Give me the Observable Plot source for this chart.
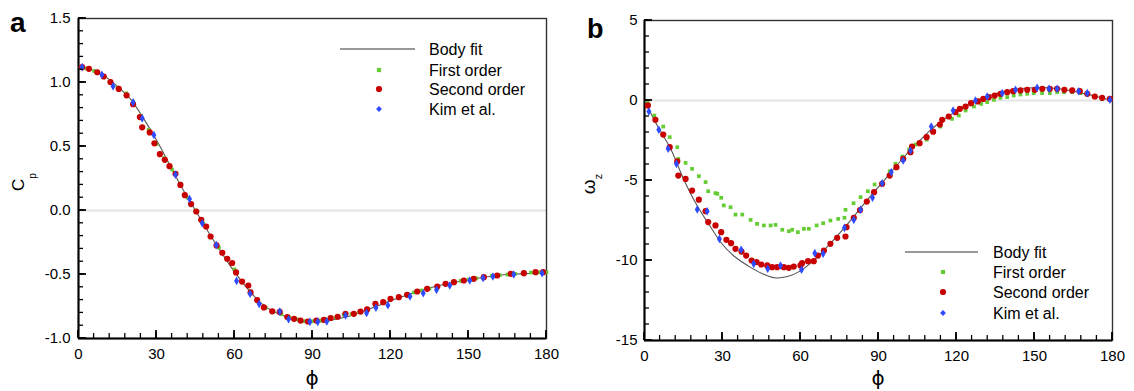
<!DOCTYPE html>
<html>
<head>
<meta charset="utf-8">
<script src="https://cdn.jsdelivr.net/npm/d3@7"></script>
<script src="https://cdn.jsdelivr.net/npm/@observablehq/plot@0.6"></script>
<style>
  html, body { margin: 0; padding: 0; background: #fff; }
  #wrap { display: flex; width: 1134px; height: 391px; }
  #wrap > div { width: 567px; height: 391px; }
</style>
</head>
<body>
<div id="wrap"><div id="pa"></div><div id="pb"></div></div>
<script>
// ---------- Tick labels ----------
const xMajorTicks = [0, 30, 60, 90, 120, 150, 180];
const cpMajorTicks = [-1.0, -0.5, 0.0, 0.5, 1.0, 1.5];
const omMajorTicks = [-15, -10, -5, 0, 5];
const seriesNames = ["Body fit", "First order", "Second order", "Kim et al."];

// ---------- Panel a: Cp ----------
const cpFitPhi = [0,5,10,15,20,25,30,35,40,45,50,55,60,65,70,75,80,85,90,95,100,105,110,115,120,125,130,135,140,145,150,155,160,165,170,175,180];
const cpFit    = [1.12,1.10,1.05,0.97,0.87,0.72,0.55,0.36,0.17,0.0,-0.17,-0.33,-0.48,-0.61,-0.72,-0.79,-0.83,-0.86,-0.875,-0.865,-0.845,-0.82,-0.785,-0.745,-0.705,-0.67,-0.635,-0.605,-0.58,-0.56,-0.54,-0.525,-0.51,-0.5,-0.495,-0.49,-0.49];

const cpFirstPhi = [3,6,9,12,15,18.3,21,24,27,30,33,36,39,42,45,48,51,54,57,60,63,66,69,72,75,78,81,84,87,90,93,96,99,102,105,108,111,114,117,120,123,126,129,132,135,138,141,144,147,150,153,156,159,162,165,168,171,174,177,180];
const cpFirst    = [1.11,1.09,1.06,1.01,0.96,0.915,0.85,0.74,0.63,0.52,0.41,0.32,0.21,0.10,0.0,-0.10,-0.2,-0.29,-0.37,-0.46,-0.55,-0.63,-0.71,-0.76,-0.79,-0.81,-0.835,-0.85,-0.865,-0.865,-0.86,-0.85,-0.835,-0.815,-0.81,-0.795,-0.775,-0.74,-0.72,-0.695,-0.68,-0.66,-0.64,-0.625,-0.61,-0.595,-0.575,-0.56,-0.55,-0.54,-0.53,-0.52,-0.51,-0.505,-0.5,-0.495,-0.49,-0.485,-0.483,-0.482];

const cpSecondPhi = [1.4,4,7.2,9.7,12.3,15.5,18.5,21,23.6,24.5,27.4,29.2,31.3,33.2,35,37.3,39.2,40.9,43.3,45.3,47.2,49.1,50.8,53.1,55.3,57.2,59.1,60.6,62.9,65.3,66.2,68.7,71.3,74.5,77.4,80.3,82.9,85.4,88.2,91.5,94.4,97,99.7,102.7,105.9,108.5,111,114.2,117.2,120,123.2,126.4,130.3,134.1,138,141.2,144.4,148.2,152,155.9,161,166.2,171.3,175.8,178.7];
const cpSecond    = [1.12,1.107,1.08,1.047,1.003,0.95,0.90,0.83,0.73,0.65,0.61,0.525,0.44,0.396,0.346,0.287,0.20,0.12,0.05,-0.008,-0.073,-0.125,-0.203,-0.273,-0.33,-0.377,-0.41,-0.484,-0.555,-0.586,-0.64,-0.70,-0.757,-0.788,-0.792,-0.832,-0.846,-0.86,-0.867,-0.86,-0.854,-0.84,-0.83,-0.807,-0.807,-0.79,-0.773,-0.729,-0.716,-0.69,-0.677,-0.659,-0.633,-0.612,-0.594,-0.573,-0.56,-0.547,-0.534,-0.521,-0.508,-0.495,-0.49,-0.482,-0.482];

const cpKimPhi = [1.4,9,13.3,21,24.5,29,37.3,42.7,47.6,53,60.8,66,69.5,77.4,80.8,89,92,95.5,102.7,110.8,114.4,119,127.5,132.6,137.7,142.8,150.5,155.6,159.4,167.4,178.3];
const cpKim    = [1.12,1.06,0.97,0.845,0.72,0.59,0.28,0.09,-0.10,-0.27,-0.55,-0.65,-0.73,-0.79,-0.85,-0.87,-0.87,-0.867,-0.82,-0.80,-0.76,-0.74,-0.672,-0.646,-0.62,-0.586,-0.547,-0.528,-0.516,-0.50,-0.49];

// ---------- Panel b: vorticity ----------
const omFitPhi = [0,5,10,15,20,25,30,35,40,45,50,55,60,65,70,75,80,85,90,95,100,105,110,115,120,125,130,135,140,145,150,155,160,165,170,175,180];
const omFit    = [0,-1.6,-3.0,-4.9,-6.5,-7.8,-9.0,-9.8,-10.35,-10.8,-11.08,-11.0,-10.65,-10.0,-9.2,-8.3,-7.35,-6.35,-5.4,-4.45,-3.5,-2.65,-1.85,-1.2,-0.65,-0.2,0.15,0.42,0.62,0.74,0.8,0.8,0.72,0.58,0.4,0.2,0.0];

const omFirstPhi = [1.2,3.8,7.2,9.7,12.6,13,15.8,18.3,20.9,23.5,24.5,27.3,28,29.5,30.5,33.1,35,37.6,40.8,43.3,45.9,48.5,50.4,53,55.5,56.8,59,61.3,63.2,66.2,68.7,71.5,74.5,76.9,77.3,80.4,83.1,85.9,88.5,94.3,96.5,99.2,101.8,104.3,108.5,111.3,113.8,118.3,120.9,123.5,126.7,129.5,131.8,134.4,136.9,139.5,142,144.6,147.2,149.7,152.9,155.9,158.7,161.3,164.5,167.7,170.3,172.8,176,179];
const omFirst    = [-0.13,-0.94,-1.63,-2.29,-2.92,-3.65,-3.9,-4.27,-4.73,-5.1,-5.67,-5.79,-5.83,-6.08,-6.56,-6.67,-7.13,-7.13,-7.46,-7.71,-7.81,-7.81,-7.77,-8.08,-8.17,-8.08,-8.23,-8.02,-8.02,-7.81,-7.67,-7.5,-7.4,-7.33,-6.83,-6.42,-6.04,-5.67,-5.25,-4.42,-3.96,-3.5,-3.05,-2.75,-2.45,-1.98,-1.63,-1.15,-0.94,-0.625,-0.375,-0.21,-0.1,0.04,0.17,0.21,0.31,0.375,0.42,0.46,0.46,0.46,0.52,0.52,0.52,0.46,0.375,0.25,0.1,0.04];

const omSecondPhi = [1.3,4.2,7.2,9.7,12.6,13,15.8,18.3,20.9,23.5,24.5,27.3,29.5,31.5,33.3,35,37.3,39.1,41.2,43.1,44.9,47.2,49.1,51,53.6,55.5,57.4,60,60.6,62.9,65.1,66.7,69,71.5,74.1,77.3,77.7,80.5,82.9,85.5,88.3,91.4,94.3,96.9,99.5,102.3,102.9,105.8,108.5,111,113.6,114.5,117,119.6,121.3,123.5,125.6,128.2,130.3,132.4,134.7,136.9,139.5,141.8,144.6,147.2,150.1,153,155.9,158.7,161.5,164.5,167.4,170.3,173.2,176,179];
const omSecond    = [-0.31,-1.21,-2.13,-2.92,-3.81,-4.69,-4.9,-5.63,-6.2,-6.92,-7.6,-7.81,-8.23,-8.71,-8.92,-9.27,-9.44,-9.69,-10.0,-10.1,-10.25,-10.31,-10.42,-10.42,-10.42,-10.46,-10.38,-10.31,-10.17,-10.04,-10.04,-9.69,-9.38,-8.96,-8.58,-8.5,-7.92,-7.33,-6.85,-6.32,-5.73,-5.21,-4.69,-4.17,-3.65,-3.23,-2.88,-2.67,-2.29,-1.95,-1.5,-1.21,-1.0,-0.73,-0.52,-0.38,-0.17,-0.06,0.1,0.21,0.31,0.42,0.52,0.58,0.63,0.67,0.67,0.73,0.73,0.73,0.67,0.63,0.58,0.42,0.25,0.17,0.1];

const omKimPhi = [1.7,5.5,9.1,12.3,20.3,24.1,28.8,37.2,42,47.4,52.3,60.4,65.5,68.7,76.9,80.5,83.1,87.7,91.4,94.9,99.5,102.3,110.3,118.7,127.3,131.8,137.6,142.7,151,155.6,158.7,167,170.3,179];
const omKim    = [-0.69,-1.83,-3.02,-3.96,-6.81,-6.92,-8.65,-9.33,-10.21,-10.52,-10.31,-10.58,-9.54,-9.58,-7.96,-7.46,-6.83,-6.08,-5.17,-4.48,-3.75,-3.13,-1.63,-0.625,0.0,0.25,0.46,0.67,0.79,0.73,0.73,0.58,0.46,0.05];

// ---------- Styles ----------
const colFit = "#555555", colFirst = "#66cc33", colSecond = "#c80000", colKim = "#2f4bff";
const FONT = "'Liberation Sans', Arial, Helvetica, sans-serif";

const zip = (xs, ys) => xs.map((x, i) => ({phi: x, v: ys[i]}));

function panel({fit, first, second, kim, yDomain, yMajor, yMinorStep, yFormat, margins, tickPadY}) {
  const W = 567, H = 391;
  const yMinor = d3.range(yDomain[0], yDomain[1] + 1e-9, yMinorStep);
  const xMinor = d3.range(0, 181, 6);
  const y0 = yDomain[0];
  const svg = Plot.plot({
    width: W, height: H,
    ...margins,
    style: {fontFamily: FONT, fontSize: "15px", color: "#000", background: "transparent", overflow: "visible"},
    x: {domain: [0, 180]},
    y: {domain: yDomain},
    marks: [
      Plot.ruleY([0], {stroke: "#e4e4e4", strokeWidth: 2}),
      Plot.frame({stroke: "#333", strokeWidth: 1.4, fill: "none"}),
      Plot.axisX({ticks: xMajorTicks, tickSize: 0, tickPadding: 10, tickFormat: d => String(d), label: null}),
      Plot.axisY({ticks: yMajor, tickSize: 0, tickPadding: tickPadY, tickFormat: yFormat, label: null}),
      Plot.ruleX([0], {stroke: "#000", strokeWidth: 2}),
      Plot.ruleY([y0], {stroke: "#000", strokeWidth: 2}),
      Plot.line(fit, {x: "phi", y: "v", stroke: colFit, strokeWidth: 1.1, curve: "catmull-rom"}),
      Plot.dot(first, {x: "phi", y: "v", symbol: "square", r: 2.1, fill: colFirst, stroke: "none"}),
      Plot.dot(second, {x: "phi", y: "v", r: 3.1, fill: colSecond, stroke: "none"}),
      Plot.dot(kim, {x: "phi", y: "v", symbol: "diamond", r: 2.6, fill: colKim, stroke: "none"})
    ]
  });
  // inward tick marks, positioned with the plot's own scales
  const sx = svg.scale("x"), sy = svg.scale("y");
  const xb = sy.apply(y0), xl = sx.apply(0);
  const g = d3.select(svg).append("g").attr("stroke", "#000");
  const tick = (lst, len, w, horiz) => lst.forEach(v => {
    if (horiz) g.append("line").attr("x1", sx.apply(v)).attr("x2", sx.apply(v)).attr("y1", xb).attr("y2", xb - len).attr("stroke-width", w);
    else g.append("line").attr("y1", sy.apply(v)).attr("y2", sy.apply(v)).attr("x1", xl).attr("x2", xl + len).attr("stroke-width", w);
  });
  tick(xMinor, 5, 1.3, true);
  tick(xMajorTicks, 8, 1.8, true);
  tick(yMinor, 5, 1.3, false);
  tick(yMajor, 8, 1.8, false);
  return svg;
}

function addLegend(svg, {lx1, lx2, mx, tx, rows}) {
  const g = d3.select(svg).append("g").attr("font-family", FONT).attr("font-size", 16).attr("text-anchor", "start");
  g.append("line").attr("x1", lx1).attr("x2", lx2).attr("y1", rows[0]).attr("y2", rows[0])
    .attr("stroke", "#999").attr("stroke-width", 2);
  g.append("path").attr("d", d3.symbol(d3.symbolSquare, 18)()).attr("transform", `translate(${mx},${rows[1]})`).attr("fill", colFirst);
  g.append("circle").attr("cx", mx).attr("cy", rows[2]).attr("r", 3.1).attr("fill", colSecond);
  g.append("path").attr("d", d3.symbol(d3.symbolDiamond2, 22)()).attr("transform", `translate(${mx},${rows[3]})`).attr("fill", colKim);
  seriesNames.forEach((s, i) => {
    g.append("text").attr("x", tx).attr("y", rows[i]).attr("dy", "0.35em").attr("text-anchor", "start").attr("fill", "#000").text(s);
  });
}

function addLabels(svg, {tag, tagX, tagY, tagSize, ylab, yx, yy, sub, subShift, ylabSize, subSize, phiX}) {
  const s = d3.select(svg);
  s.append("text").attr("x", tagX).attr("y", tagY).attr("text-anchor", "start").attr("font-family", FONT).attr("font-weight", "bold")
    .attr("font-size", tagSize).attr("fill", "#000").text(tag);
  const t = s.append("text").attr("transform", `translate(${yx},${yy}) rotate(-90)`)
    .attr("text-anchor", "middle").attr("font-family", FONT).attr("font-size", ylabSize).attr("fill", "#000");
  t.append("tspan").text(ylab);
  t.append("tspan").attr("dy", subShift).attr("font-size", subSize).text(sub);
  s.append("text").attr("x", phiX).attr("y", 385).attr("text-anchor", "middle")
    .attr("font-family", "'DejaVu Sans', " + FONT).attr("font-size", 20).attr("fill", "#000").text("ϕ");
}

const svgA = panel({
  fit: zip(cpFitPhi, cpFit), first: zip(cpFirstPhi, cpFirst), second: zip(cpSecondPhi, cpSecond), kim: zip(cpKimPhi, cpKim),
  yDomain: [-1, 1.5], yMajor: cpMajorTicks, yMinorStep: 0.1, yFormat: d => d.toFixed(1),
  margins: {marginLeft: 78, marginRight: 21, marginTop: 18, marginBottom: 53}, tickPadY: 8
});
addLegend(svgA, {lx1: 340, lx2: 415, mx: 379, tx: 429, rows: [49, 70, 89, 109]});
addLabels(svgA, {tag: "a", tagX: 10, tagY: 32, tagSize: 28, ylab: "C", yx: 24, yy: 182, sub: "p", subShift: 12, ylabSize: 17, subSize: 10, phiX: 312});
document.getElementById("pa").appendChild(svgA);

const svgB = panel({
  fit: zip(omFitPhi, omFit), first: zip(omFirstPhi, omFirst), second: zip(omSecondPhi, omSecond), kim: zip(omKimPhi, omKim),
  yDomain: [-15, 5], yMajor: omMajorTicks, yMinorStep: 1, yFormat: d => String(d),
  margins: {marginLeft: 77, marginRight: 22, marginTop: 20, marginBottom: 51}, tickPadY: 7
});
addLegend(svgB, {lx1: 338, lx2: 411, mx: 376, tx: 426, rows: [252, 272, 292, 313]});
addLabels(svgB, {tag: "b", tagX: 20, tagY: 38, tagSize: 27, ylab: "ω", yx: 28, yy: 184, sub: "z", subShift: 7, ylabSize: 19, subSize: 11, phiX: 311});
document.getElementById("pb").appendChild(svgB);
</script>
</body>
</html>
